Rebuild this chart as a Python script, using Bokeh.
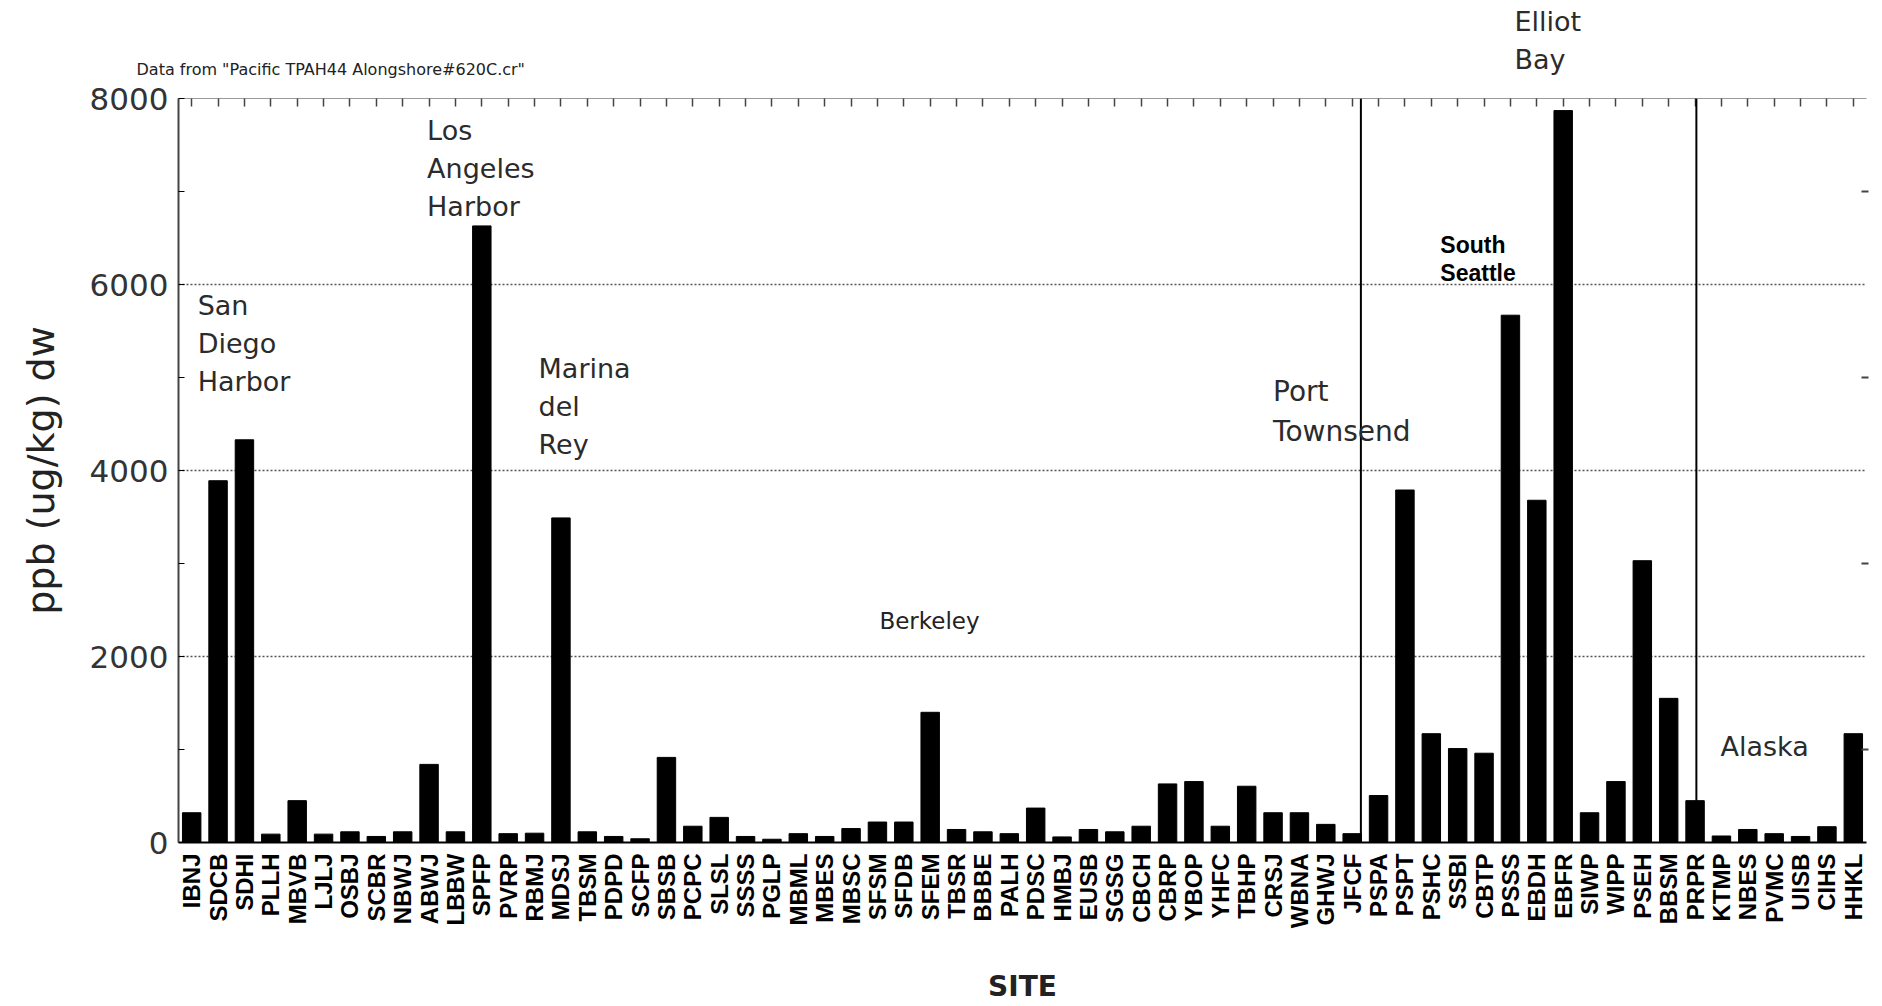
import math
from bokeh.plotting import figure
from bokeh.layouts import column
from bokeh.models import (FactorRange, Range1d, LinearAxis, FixedTicker, Span,
                          Label, ColumnDataSource, CategoricalAxis)
from bokeh.embed import file_html
from bokeh.resources import INLINE

sites = ["IBNJ", "SDCB", "SDHI", "PLLH", "MBVB", "LJLJ", "OSBJ", "SCBR", "NBWJ", "ABWJ",
         "LBBW", "SPFP", "PVRP", "RBMJ", "MDSJ", "TBSM", "PDPD", "SCFP", "SBSB", "PCPC",
         "SLSL", "SSSS", "PGLP", "MBML", "MBES", "MBSC", "SFSM", "SFDB", "SFEM", "TBSR",
         "BBBE", "PALH", "PDSC", "HMBJ", "EUSB", "SGSG", "CBCH", "CBRP", "YBOP", "YHFC",
         "TBHP", "CRSJ", "WBNA", "GHWJ", "JFCF", "PSPA", "PSPT", "PSHC", "SSBI", "CBTP",
         "PSSS", "EBDH", "EBFR", "SIWP", "WIPP", "PSEH", "BBSM", "PRPR", "KTMP", "NBES",
         "PVMC", "UISB", "CIHS", "HHKL"]
ppb = [320, 3890, 4330, 90, 450, 90, 115, 65, 115, 840,
       115, 6630, 95, 100, 3490, 115, 65, 40, 915, 175,
       270, 65, 35, 95, 65, 150, 220, 220, 1400, 140,
       115, 95, 370, 60, 140, 115, 175, 630, 655, 175,
       605, 320, 320, 195, 95, 505, 3790, 1170, 1010, 960,
       5670, 3680, 7870, 320, 655, 3030, 1550, 450, 70, 140,
       95, 65, 170, 1170]

y_ticks = [0, 2000, 4000, 6000, 8000]
y_minor = [1000, 3000, 5000, 7000]
grid_ticks = [2000, 4000, 6000]

# region separators: (site, offset from its centre in category widths)
separators = [("JFCF", 0.33), ("PRPR", 0.05)]

# region labels inside the plot: (text, anchor site, pixel offset, y value, font size)
regions = [
    ("San\nDiego\nHarbor", "IBNJ", 6, 5366, 27),
    ("Los\nAngeles\nHarbor", "ABWJ", -2, 7247, 27),
    ("Marina\ndel\nRey", "RBMJ", 4, 4688, 27),
    ("Port\nTownsend", "CRSJ", 0, 4634, 28),
    ("Alaska", "KTMP", -1, 1032, 27),
]

W = 1882
HEAD_H = 78
MAIN_H = 928
LEFT, RIGHT, TOP, BOTTOM = 178, 16, 20, 164
FRAME_W = W - LEFT - RIGHT


def centre(site):
    return sites.index(site) + 0.5


def page_x(site):
    return LEFT + centre(site) * FRAME_W / len(sites)


# ---------- header strip (texts above the plot frame) ----------
head = figure(width=W, height=HEAD_H, x_range=Range1d(0, W), y_range=Range1d(HEAD_H, 0),
              output_backend="svg", toolbar_location=None,
              min_border_left=0, min_border_right=0, min_border_top=0,
              min_border_bottom=0)
head.frame_align = False
head.axis.visible = False
head.grid.visible = False
head.outline_line_color = None
head.add_layout(Label(x=page_x("PSSS") + 4, y=40, text="Elliot\nBay", text_align="left",
                      text_baseline="middle", text_font="DejaVu Sans",
                      text_font_size="27px", text_color="#2b2b2b", text_line_height=1.22))
head.add_layout(Label(x=LEFT - 42, y=69,
                      text='Data from "Pacific TPAH44 Alongshore#620C.cr"',
                      text_align="left", text_baseline="middle", text_font="DejaVu Sans",
                      text_font_size="16px", text_color="#222222"))

# ---------- main chart ----------
source = ColumnDataSource(data=dict(site=sites, ppb=ppb))

p = figure(x_range=FactorRange(*sites), y_range=Range1d(0, 8000),
           width=W, height=MAIN_H, output_backend="svg", toolbar_location=None,
           min_border_left=LEFT, min_border_right=RIGHT, min_border_top=TOP,
           min_border_bottom=BOTTOM)
p.frame_align = False
p.outline_line_color = None
p.background_fill_color = "white"

p.vbar(x="site", top="ppb", width=0.7, source=source, fill_color="black",
       line_color="black")

# x axis
xa = p.xaxis[0]
xa.major_label_orientation = math.pi / 2
xa.major_label_text_font = "Liberation Sans"
xa.major_label_text_font_style = "bold"
xa.major_label_text_font_size = "24px"
xa.major_label_text_color = "black"
xa.major_tick_in = 0
xa.major_tick_out = 0
xa.major_label_standoff = 11
xa.axis_line_width = 2
xa.axis_line_color = "black"
xa.axis_label = "SITE"
xa.axis_label_text_font = "DejaVu Sans"
xa.axis_label_text_font_style = "bold"
xa.axis_label_text_font_size = "28px"
xa.axis_label_text_color = "#222222"
xa.axis_label_standoff = 39
p.xgrid.visible = False

# y axis
ya = p.yaxis[0]
ya.ticker = FixedTicker(ticks=y_ticks, minor_ticks=y_minor)
ya.major_label_text_font = "DejaVu Sans"
ya.major_label_text_font_size = "31px"
ya.major_label_text_color = "#333333"
ya.major_tick_in = 6
ya.major_tick_out = 0
ya.minor_tick_in = 6
ya.minor_tick_out = 0
ya.major_label_standoff = 10
ya.axis_line_width = 2
ya.axis_line_color = "#444444"
ya.axis_label = "ppb (ug/kg) dw"
ya.axis_label_text_font = "DejaVu Sans"
ya.axis_label_text_font_style = "normal"
ya.axis_label_text_font_size = "38px"
ya.axis_label_text_color = "#222222"
ya.axis_label_standoff = 24

p.ygrid.ticker = FixedTicker(ticks=grid_ticks)
p.ygrid.grid_line_color = "#555555"
p.ygrid.grid_line_dash = "2 2"
p.ygrid.grid_line_width = 1.5

# right axis: small ticks only
ra = LinearAxis(ticker=FixedTicker(ticks=[], minor_ticks=y_minor),
                axis_line_color=None, major_label_text_font_size="0px",
                major_tick_in=0, major_tick_out=0, major_label_standoff=0,
                minor_tick_in=5, minor_tick_out=2, minor_tick_line_width=2,
                minor_tick_line_color="#444444")
p.add_layout(ra, "right")

# top axis: a tick at each site
ta = CategoricalAxis(major_label_text_font_size="0px", major_label_standoff=0,
                     major_tick_in=8, major_tick_out=0,
                     axis_line_color="#999999", axis_line_width=1,
                     major_tick_line_color="#444444", major_tick_line_width=1.5)
p.add_layout(ta, "above")

for s, off in separators:
    p.add_layout(Span(location=centre(s) + off, dimension="height",
                      line_color="black", line_width=2))

for text, site, dx, yv, fs in regions:
    p.add_layout(Label(x=centre(site), y=yv, x_offset=dx, text=text, text_align="left",
                       text_baseline="middle", text_font="DejaVu Sans",
                       text_font_size=f"{fs}px", text_color="#2b2b2b",
                       text_line_height=1.22))

p.add_layout(Label(x=centre("SFSM"), y=2387, x_offset=2, text="Berkeley",
                   text_align="left", text_baseline="middle", text_font="DejaVu Sans",
                   text_font_size="23px", text_color="#222222"))

p.add_layout(Label(x=centre("PSHC"), y=6274, x_offset=9, text="South\nSeattle",
                   text_align="left", text_baseline="middle",
                   text_font="Liberation Sans", text_font_size="23px",
                   text_font_style="bold", text_color="black", text_line_height=1.08))

layout = column(head, p, spacing=0)
open("out.html", "w").write(file_html(layout, INLINE))
